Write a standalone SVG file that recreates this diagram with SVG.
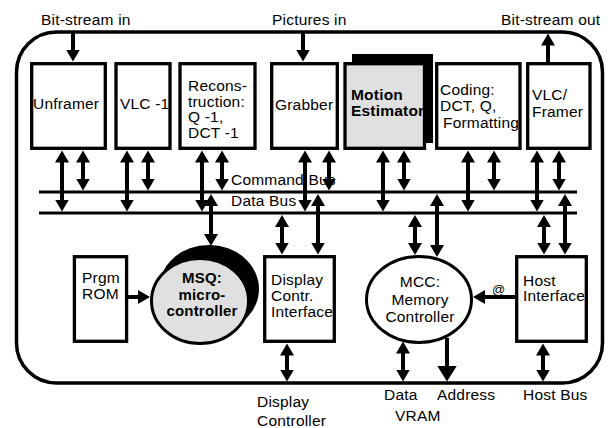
<svg xmlns="http://www.w3.org/2000/svg" width="608" height="428" viewBox="0 0 608 428">
<style>
text{font-family:"Liberation Sans",Arial,sans-serif;font-size:15.5px;letter-spacing:0.2px;fill:#000}
.b{font-weight:bold}
.m{text-anchor:middle}
.box{fill:#fff;stroke:#000;stroke-width:3.3}
.g{fill:#e0e0e0;stroke:#000;stroke-width:3.3}
.c{stroke:#000;stroke-width:4;fill:none}
.bus{stroke:#000;stroke-width:3;fill:none}
</style>
<defs>
<marker id="ah" markerUnits="userSpaceOnUse" markerWidth="14" markerHeight="14" refX="7" refY="7" orient="auto-start-reverse"><path d="M0,0 L12,7 L0,14 z" fill="#000"/></marker>
<marker id="big" markerUnits="userSpaceOnUse" markerWidth="20" markerHeight="20" refX="10" refY="10" orient="auto-start-reverse"><path d="M0,0 L16,10 L0,20 z" fill="#000"/></marker>
</defs>
<rect id="frame" x="16.5" y="32" width="586" height="351" rx="40" fill="none" stroke="#000" stroke-width="3.5"/>
<g id="labels">
<text x="41" y="25">Bit-stream in</text>
<text x="272" y="25">Pictures in</text>
<text x="501" y="25">Bit-stream out</text>
<text x="257" y="407">Display</text>
<text x="257" y="426">Controller</text>
<text x="384" y="400">Data</text>
<text x="437" y="400">Address</text>
<text x="523" y="400">Host Bus</text>
<text x="395" y="421">VRAM</text>
<text x="231" y="185">Command Bus</text>
<text x="231" y="206">Data Bus</text>
</g>
<g id="unframer"><rect class="box" x="31.7" y="63.7" width="73.6" height="84.6"/><text x="33" y="109">Unframer</text></g>
<g id="vlc-inv"><rect class="box" x="116" y="63.7" width="54" height="84.6"/><text x="120" y="109">VLC -1</text></g>
<g id="recon"><rect class="box" x="180" y="63.7" width="75" height="84.6"/><text x="188" y="91">Recons-</text><text x="188" y="107">truction:</text><text x="188" y="122">Q -1,</text><text x="188" y="138">DCT -1</text></g>
<g id="grabber"><rect class="box" x="271.7" y="63.7" width="65.6" height="84.6"/><text x="275" y="110">Grabber</text></g>
<g id="motion"><rect x="352" y="54" width="81" height="89" fill="#000"/><rect class="g" x="345" y="63.7" width="79.5" height="84.6"/><text class="b" x="351" y="100">Motion</text><text class="b" x="351" y="116">Estimator</text></g>
<g id="coding"><rect class="box" x="436.7" y="63.7" width="83.3" height="84.6"/><text x="440" y="95">Coding:</text><text x="440" y="111">DCT, Q,</text><text x="443" y="128">Formatting</text></g>
<g id="vlc-framer"><rect class="box" x="527.7" y="63.7" width="62.3" height="84.6"/><text x="532" y="100">VLC/</text><text x="532" y="117">Framer</text></g>
<g id="rom"><rect class="box" x="74.4" y="256.7" width="52.2" height="84.6"/><text x="82" y="283">Prgm</text><text x="82" y="299">ROM</text></g>
<g id="msq"><ellipse cx="209" cy="289" rx="50" ry="44" fill="#000"/><ellipse cx="200" cy="301" rx="48.5" ry="42.5" fill="#e0e0e0" stroke="#000" stroke-width="3"/><text class="b m" x="202" y="283" style="font-size:15px">MSQ:</text><text class="b m" x="202" y="300" style="font-size:15px">micro-</text><text class="b m" x="202" y="316" style="font-size:15px">controller</text></g>
<g id="display"><rect class="box" x="264.7" y="256.7" width="69.6" height="84.6"/><text x="271" y="285">Display</text><text x="271" y="301">Contr.</text><text x="271" y="317">Interface</text></g>
<g id="mcc"><ellipse cx="419" cy="299.5" rx="52.5" ry="43" fill="#fff" stroke="#000" stroke-width="3"/><text class="m" x="420" y="287">MCC:</text><text class="m" x="420" y="305">Memory</text><text class="m" x="420" y="322">Controller</text></g>
<g id="host"><rect class="box" x="516.7" y="256.7" width="69.6" height="84.6"/><text x="523" y="286">Host</text><text x="523" y="301">Interface</text></g>
<g id="connectors">
<line class="bus" x1="39" y1="192" x2="577" y2="192"/>
<line class="bus" x1="39" y1="213" x2="577" y2="213"/>
<line class="c" x1="73" y1="32" x2="73" y2="56.5" marker-end="url(#ah)"/>
<line class="c" x1="303" y1="32" x2="303" y2="56.5" marker-end="url(#ah)"/>
<line class="c" x1="548" y1="62" x2="548" y2="38.5" marker-end="url(#ah)"/>
<g marker-start="url(#ah)" marker-end="url(#ah)">
<line class="c" x1="62" y1="155.5" x2="62" y2="206.5"/>
<line class="c" x1="127" y1="155.5" x2="127" y2="206.5"/>
<line class="c" x1="202" y1="155.5" x2="202" y2="206.5"/>
<line class="c" x1="305" y1="155.5" x2="305" y2="206.5"/>
<line class="c" x1="383" y1="155.5" x2="383" y2="206.5"/>
<line class="c" x1="468" y1="155.5" x2="468" y2="206.5"/>
<line class="c" x1="537" y1="155.5" x2="537" y2="206.5"/>
<line class="c" x1="83" y1="155.5" x2="83" y2="185.5"/>
<line class="c" x1="148" y1="155.5" x2="148" y2="185.5"/>
<line class="c" x1="222" y1="155.5" x2="222" y2="185.5"/>
<line class="c" x1="329" y1="155.5" x2="329" y2="185.5"/>
<line class="c" x1="404" y1="155.5" x2="404" y2="185.5"/>
<line class="c" x1="494" y1="155.5" x2="494" y2="185.5"/>
<line class="c" x1="559" y1="155.5" x2="559" y2="185.5"/>
<line class="c" x1="211" y1="199" x2="211" y2="241"/>
<line class="c" x1="318" y1="199" x2="318" y2="249.5"/>
<line class="c" x1="437" y1="199" x2="437" y2="252"/>
<line class="c" x1="565" y1="199" x2="565" y2="249.5"/>
<line class="c" x1="282" y1="220" x2="282" y2="249.5"/>
<line class="c" x1="415" y1="220" x2="415" y2="250"/>
<line class="c" x1="544" y1="220" x2="544" y2="249.5"/>
<line class="c" x1="287" y1="348.5" x2="287" y2="376.5"/>
<line class="c" x1="403" y1="346.5" x2="403" y2="376.5"/>
<line class="c" x1="543" y1="348.5" x2="543" y2="376.5"/>
</g>
<line class="c" x1="447" y1="338" x2="447" y2="375.5" marker-end="url(#big)"/>
<line class="c" x1="128" y1="297" x2="145" y2="297" marker-end="url(#ah)"/>
<line class="c" x1="515" y1="297" x2="478" y2="297" marker-end="url(#ah)"/>
<text x="492" y="294" style="font-size:13px">@</text>
</g>
</svg>
